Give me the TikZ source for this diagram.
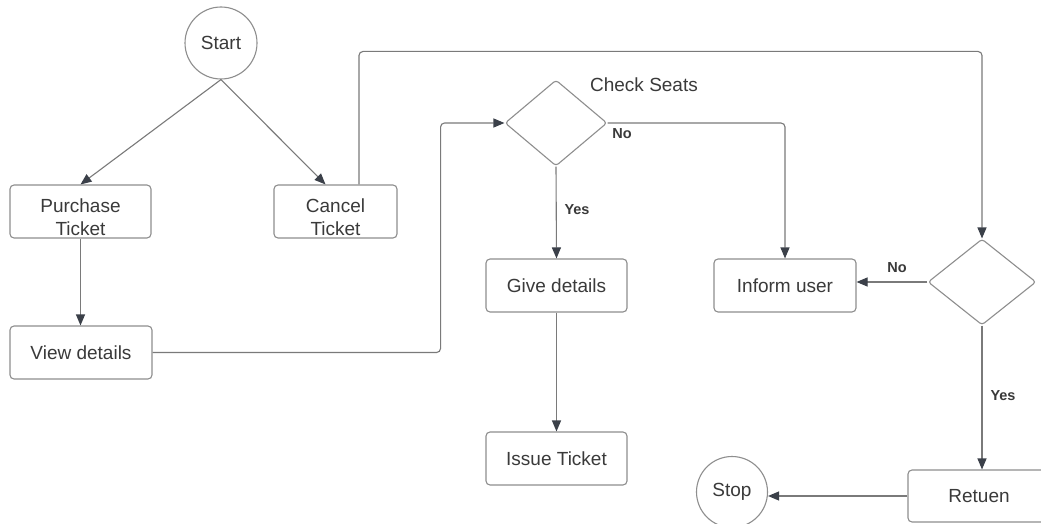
\documentclass[tikz,border=0pt]{standalone}
\usepackage{fontspec}
\setmainfont{Liberation Sans}
\usetikzlibrary{arrows.meta,shapes.geometric}
\definecolor{linec}{HTML}{7A7A7A}
\definecolor{boxc}{HTML}{8E8E8E}
\definecolor{tipc}{HTML}{3B4049}
\definecolor{txtc}{HTML}{3A3A3A}
\newcommand{\twoline}[2]{\raisebox{-12pt}[0pt][0pt]{\begin{tabular}{@{}c@{}}#1\\#2\end{tabular}}}
\begin{document}
\begin{tikzpicture}[x=1pt,y=-1pt,
  txt/.style={text=txtc,font=\fontsize{19}{23}\selectfont},
  box/.style={txt,draw=boxc,line width=1.1pt,rounded corners=4pt,inner sep=0pt,align=center},
  circ/.style={txt,draw=boxc,line width=1.1pt,circle,inner sep=0pt},
  dia/.style={draw=boxc,line width=1.1pt,diamond,inner sep=0pt,rounded corners=3pt},
  lbl/.style={text=txtc,font=\fontsize{14.5}{17}\selectfont\bfseries,inner sep=0pt},
  conn/.style={draw=linec,line width=1.1pt,rounded corners=4pt,-{Triangle[length=11pt,width=9pt,color=tipc]}},
  plain/.style={draw=linec,line width=1.1pt,rounded corners=4pt}]
\useasboundingbox[fill=white] (0,0) rectangle (1041,524);

\node[circ,minimum size=72pt] (start) at (221,43) {Start};
\node[box,minimum width=141pt,minimum height=53pt] (purchase) at (80.5,211.5) {\twoline{Purchase}{Ticket}};
\node[box,minimum width=123pt,minimum height=53pt] (cancel) at (335.5,211.5) {\twoline{Cancel}{Ticket}};
\node[box,minimum width=142pt,minimum height=53pt] (viewd) at (81,352.5) {View details};
\node[dia,minimum width=102pt,minimum height=86pt] (check) at (556,123) {};
\node[txt,inner sep=0pt] (checklbl) at (644,85) {Check Seats};
\node[box,minimum width=141pt,minimum height=53pt] (give) at (556.5,285.5) {Give details};
\node[box,minimum width=141pt,minimum height=53pt] (issue) at (556.5,458.5) {Issue Ticket};
\node[box,minimum width=142pt,minimum height=53pt] (inform) at (785,285.5) {Inform user};
\node[dia,minimum width=108pt,minimum height=86pt] (dia2) at (982,282) {};
\node[box,minimum width=142pt,minimum height=52pt] (retuen) at (979,496) {Retuen};
\node[circ,minimum size=71pt] (stop) at (732,492) {Stop};

\node[lbl] (no1) at (622,134) {No};
\node[lbl] (yes1) at (577,210) {Yes};
\node[lbl] (no2) at (897,268) {No};
\node[lbl] (yes2) at (1003,396) {Yes};

\draw[conn] (start.south) -- (purchase.north);
\draw[conn] (start.south) -- ([xshift=-10pt]cancel.north);
\draw[conn] (purchase.south) -- (purchase.south |- viewd.north);
\draw[conn] ([xshift=23.5pt]cancel.north) -- ++(0,-133) -| (dia2.north);
\draw[conn] (viewd.east) -- ++(288,0) |- (check.west);
\draw[conn] (check.east) -| (inform.north);
\draw[conn] (check.south) -- (give.north);
\draw[conn] (give.south) -- (issue.north);
\draw[conn] (dia2.west) -- (dia2.west -| inform.east);
\draw[conn] (dia2.south) -- (dia2.south |- retuen.north);
\draw[conn] (retuen.west) -- (stop.east |- retuen.west);
\end{tikzpicture}
\end{document}
